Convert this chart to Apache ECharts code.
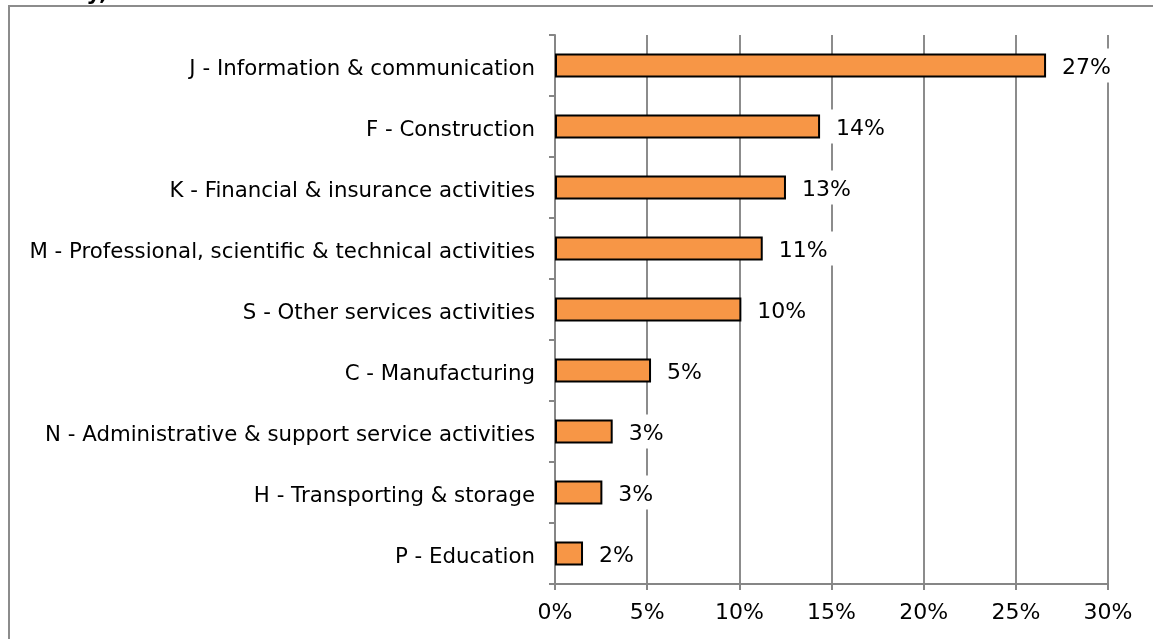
<!DOCTYPE html>
<html>
<head>
<meta charset="utf-8">
<script src="https://cdn.jsdelivr.net/npm/echarts@6/dist/echarts.min.js"></script>
<style>
html,body{margin:0;padding:0;background:#fff;}
#chart{width:1153px;height:639px;}
</style>
</head>
<body>
<div id="chart"></div>
<script>
const titleText = 'activity, in the Western Balkans 2012-2015';
const categories = [
  'J - Information & communication',
  'F - Construction',
  'K - Financial & insurance activities',
  'M - Professional, scientific & technical activities',
  'S - Other services activities',
  'C - Manufacturing',
  'N - Administrative & support service activities',
  'H - Transporting & storage',
  'P - Education'
];
const shares = [26.64, 14.38, 12.53, 11.27, 10.11, 5.21, 3.13, 2.57, 1.52];
const xTicks = [0, 5, 10, 15, 20, 25, 30];

const font = 'DejaVu Sans, Verdana, sans-serif';
const chart = echarts.init(document.getElementById('chart'), null, {renderer: 'canvas'});
chart.setOption({
  animation: false,
  backgroundColor: '#fff',
  graphic: [
    {type: 'rect', z: -1, shape: {x: 9, y: 6, width: 1300, height: 800},
     style: {fill: 'none', stroke: '#8c8c8c', lineWidth: 2}},
    {type: 'text', left: 8, top: -17,
     style: {text: titleText, font: 'bold 22px ' + font, fill: '#000'}}
  ],
  grid: {left: 555, right: 45, top: 35, bottom: 55, containLabel: false},
  xAxis: {
    type: 'value', min: xTicks[0], max: xTicks[xTicks.length - 1], interval: 5,
    axisLine: {show: true, lineStyle: {color: '#868686', width: 2}},
    axisTick: {show: true, length: 6, lineStyle: {color: '#868686', width: 2}},
    axisLabel: {formatter: v => v + '%', color: '#000', fontSize: 22, fontFamily: font, margin: 18},
    splitLine: {show: true, lineStyle: {color: '#8c8c8c', width: 2}}
  },
  yAxis: {
    type: 'category', data: categories, inverse: true,
    axisLine: {show: true, lineStyle: {color: '#868686', width: 2}},
    axisTick: {show: true, length: 6, lineStyle: {color: '#868686', width: 2}},
    axisLabel: {
      formatter: v => '{a|' + v + '}', margin: 20,
      rich: {a: {color: '#000', fontSize: 21.3, fontFamily: font, padding: [7, 0, 0, 0], lineHeight: 26}}
    },
    splitLine: {show: false}
  },
  series: [{
    type: 'bar', data: shares, barWidth: '39%',
    itemStyle: {color: '#F79646', borderColor: '#000', borderWidth: 2},
    label: {
      show: true, position: 'right', distance: 8,
      formatter: p => '{a|' + Math.round(p.value) + '%}',
      backgroundColor: '#fff', padding: [4, 8, 4, 8],
      rich: {a: {color: '#000', fontSize: 22, fontFamily: font, padding: [5, 0, 0, 0], lineHeight: 26}}
    }
  }]
});
</script>
</body>
</html>
